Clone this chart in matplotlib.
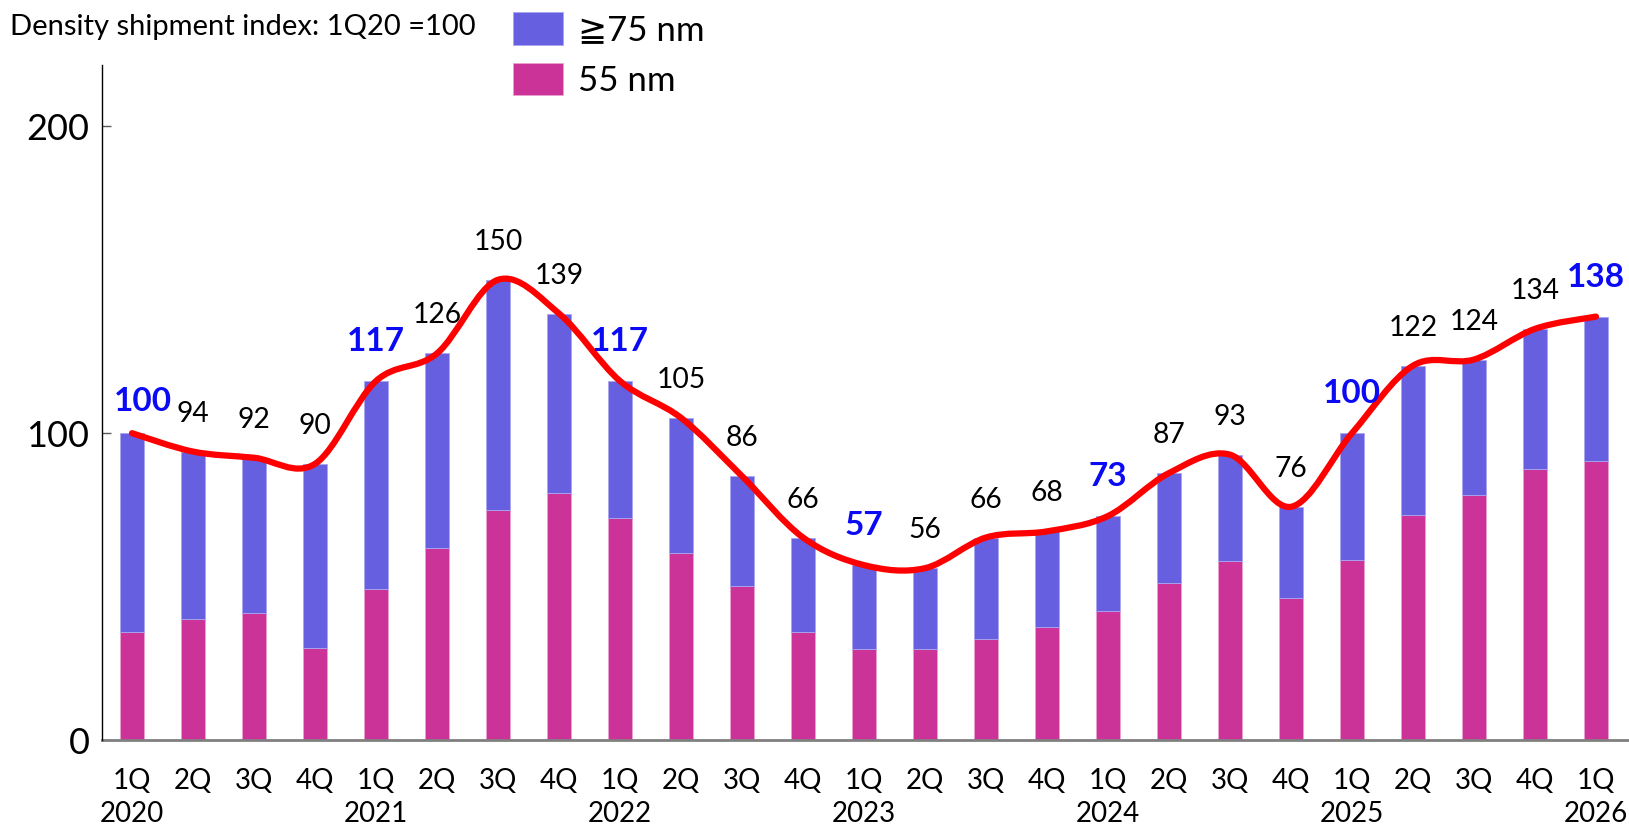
import matplotlib
matplotlib.use("Agg")
import matplotlib.pyplot as plt
from matplotlib.path import Path
from matplotlib.patches import PathPatch
import numpy as np

plt.rcParams['font.family'] = ['Lato', 'DejaVu Sans']

# quarters 1Q2020 .. 1Q2026
quarters = ['1Q', '2Q', '3Q', '4Q'] * 6 + ['1Q']
years = ['2020', '', '', '', '2021', '', '', '', '2022', '', '', '', '2023', '', '', '',
         '2024', '', '', '', '2025', '', '', '', '2026']
totals = [100, 94, 92, 90, 117, 126, 150, 139, 117, 105, 86, 66, 57, 56, 66, 68,
          73, 87, 93, 76, 100, 122, 124, 134, 138]
nm55 = [35.1, 39.5, 41.4, 30.1, 49.1, 62.5, 74.9, 80.5, 72.4, 61.0, 50.3, 35.1,
        29.5, 29.5, 32.8, 36.9, 42.0, 51.2, 58.3, 46.4, 58.6, 73.2, 79.7, 88.2, 91.0]
nm75 = [t - p for t, p in zip(totals, nm55)]

BLUE = '#6660E0'
PINK = '#CC3399'

fig = plt.figure(figsize=(16.29, 8.32), dpi=100)
ax = fig.add_axes([102/1629, 1 - 740/832, 1526/1629, 675/832])

x = np.arange(len(totals))
b55 = ax.bar(x, nm55, width=0.39, color=PINK, edgecolor='#E9A3D0', linewidth=0.6, zorder=2)
b75 = ax.bar(x, nm75, bottom=nm55, width=0.39, color=BLUE, edgecolor='#A9A5F0', linewidth=0.6, zorder=2)

# smoothed line through the totals (catmull-rom -> bezier)
pts = np.column_stack([x, totals]).astype(float)
verts = [tuple(pts[0])]
codes = [Path.MOVETO]
n = len(pts)
for i in range(n - 1):
    p0 = pts[max(i - 1, 0)]
    p1 = pts[i]
    p2 = pts[i + 1]
    p3 = pts[min(i + 2, n - 1)]
    c1 = p1 + (p2 - p0) / 6
    c2 = p2 - (p3 - p1) / 6
    verts += [tuple(c1), tuple(c2), tuple(p2)]
    codes += [Path.CURVE4] * 3
ax.add_patch(PathPatch(Path(verts, codes), fill=False, edgecolor='#FF0000', lw=4.5,
                       capstyle='round', joinstyle='round', zorder=3))

# value labels
shift = {0: (8, 16)}
for i, t in enumerate(totals):
    dx, dy = shift.get(i, (0, 21.6))
    if i % 4 == 0:
        ax.annotate(str(t), (i, t), xytext=(dx, dy), textcoords='offset points',
                    ha='center', va='baseline', fontsize=24, fontweight='bold',
                    color='#0A0AF5', zorder=4)
    else:
        ax.annotate(str(t), (i, t), xytext=(dx, dy), textcoords='offset points',
                    ha='center', va='baseline', fontsize=20.3, color='black', zorder=4)

ax.set_xlim(-0.492, 24.525)
ax.set_ylim(0, 220)
ax.set_yticks([0, 100, 200])
ax.tick_params(axis='y', direction='in', length=6.5, width=1, color='#595959',
               labelsize=26, pad=9)
ax.set_xticks(x)
ax.set_xticklabels([q + '\n' + y for q, y in zip(quarters, years)], fontsize=20,
                   linespacing=1.32)
ax.tick_params(axis='x', length=0, pad=20.5)

for s in ['top', 'right']:
    ax.spines[s].set_visible(False)
ax.spines['left'].set_color('black')
ax.spines['left'].set_linewidth(1)
ax.spines['bottom'].set_color('#808080')
ax.spines['bottom'].set_linewidth(2)
ax.spines['left'].set_zorder(5)

fig.text(10/1629, 1 - 35/832, 'Density shipment index: 1Q20 =100', fontsize=21,
         ha='left', va='baseline')

fig.legend([b75, b55], ['≧75 nm', '55 nm'], loc='upper left',
           bbox_to_anchor=(513/1629, 1 - 12/832), frameon=False, fontsize=25,
           handlelength=1.44, handleheight=1.07, handletextpad=0.42,
           labelspacing=0.48, borderpad=0, borderaxespad=0)

fig.savefig('out.png', dpi=100)
